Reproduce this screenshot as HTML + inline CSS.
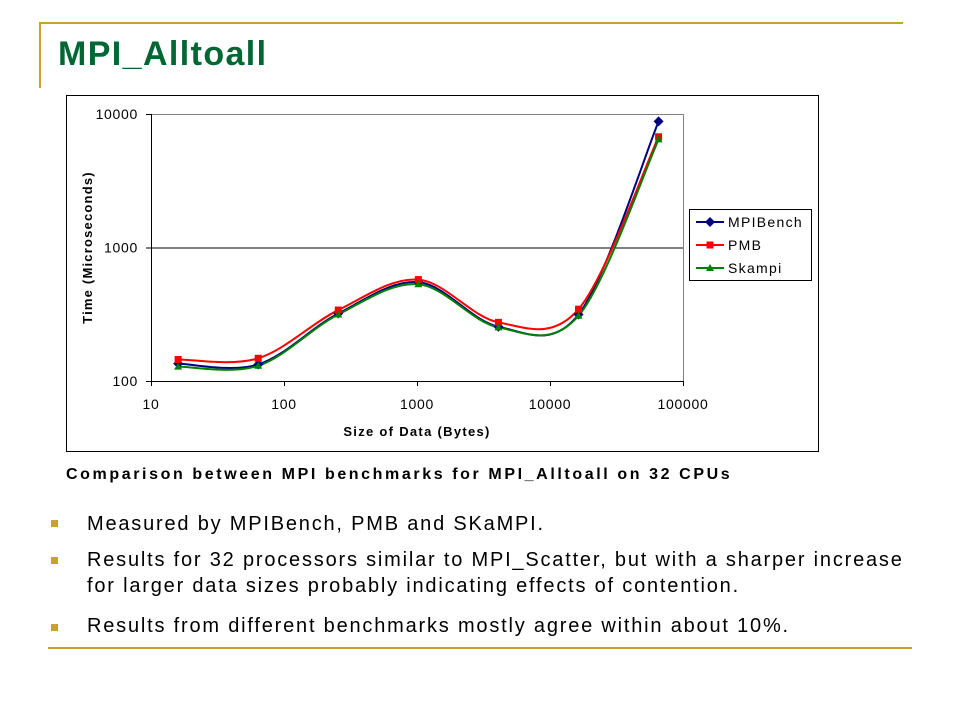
<!DOCTYPE html>
<html><head><meta charset="utf-8">
<style>
body{margin:0;width:960px;height:720px;background:#fff;font-family:"Liberation Sans",Arial,sans-serif;position:relative;overflow:hidden}
.abs{position:absolute}
.bul{position:absolute;left:51px;width:7px;height:7px;background:#c9a227}
.bt{position:absolute;left:87px;font-size:20px;color:#000;line-height:26px;white-space:nowrap;letter-spacing:1.8px}
</style></head><body>
<div class="abs" style="left:39px;top:22px;width:864px;height:2px;background:#c9a227"></div>
<div class="abs" style="left:39px;top:22px;width:2px;height:66px;background:#c9a227"></div>
<div class="abs" style="left:58px;top:35px;font-size:34px;font-weight:bold;color:#006633;letter-spacing:1.4px">MPI_Alltoall</div>

<svg class="abs" style="left:0;top:0" width="960" height="720">
<rect x="66.5" y="95.5" width="752" height="356" fill="#fff" stroke="#000"/>
<g id="plot"></g>
</svg>

<div class="abs" style="left:66px;top:466px;font-size:16px;font-weight:bold;letter-spacing:2.6px;white-space:nowrap">Comparison between MPI benchmarks for MPI_Alltoall on 32 CPUs</div>

<div class="bul" style="top:520px"></div>
<div class="bt" style="top:511px">Measured by MPIBench, PMB and SKaMPI.</div>
<div class="bul" style="top:557px"></div>
<div class="bt" style="top:547px">Results for 32 processors similar to MPI_Scatter, but with a sharper increase<br>for larger data sizes probably indicating effects of contention.</div>
<div class="bul" style="top:624px"></div>
<div class="bt" style="top:613px">Results from different benchmarks mostly agree within about 10%.</div>
<div class="abs" style="left:48px;top:647px;width:864px;height:2px;background:#c9a227"></div>

<script>
const sizes=[16,64,256,1024,4096,16384,65536];
const mpibench=[135,133,320,550,255,315,8800];
const pmb=[145,148,340,575,275,345,6750];
const skampi=[128,130,315,530,252,308,6450];
const xTicks=[10,100,1000,10000,100000];
const yTicks=[100,1000,10000];
const seriesNames=["MPIBench","PMB","Skampi"];
const seriesColors=["#000080","#ff0000","#008000"];

const NS="http://www.w3.org/2000/svg";
const g=document.getElementById('plot');
const L=151,R=683,T=114,B=381;
const X=v=>L+(Math.log10(v)-1)/4*(R-L);
const Y=v=>B-(Math.log10(v)-2)/2*(B-T);
const FF='Liberation Sans, Arial, sans-serif';
function mk(t,a){const e=document.createElementNS(NS,t);for(const k in a)e.setAttribute(k,a[k]);g.appendChild(e);return e;}
let e;
e=mk('rect',{x:L+.5,y:T+.5,width:R-L,height:B-T,fill:'#fff',stroke:'#808080'});


yTicks.forEach(v=>{
  if(v>100&&v<10000){e=mk('line',{x1:L,x2:R,y1:Y(v)+.5,y2:Y(v)+.5,stroke:'#000'});
  
  }
  e=mk('line',{x1:L-5,x2:L,y1:Y(v)+.5,y2:Y(v)+.5,stroke:'#000'});
  
  
  e=mk('text',{x:L-13,y:Y(v)+5,'text-anchor':'end','font-size':14,'letter-spacing':0.7,'font-family':FF});
  e.textContent=v;
  
  
});
e=mk('line',{x1:L+.5,x2:L+.5,y1:T,y2:B,stroke:'#000'});


e=mk('line',{x1:L,x2:R,y1:B+.5,y2:B+.5,stroke:'#000'});


xTicks.forEach(v=>{
  e=mk('line',{x1:X(v)+.5,x2:X(v)+.5,y1:B,y2:B+5,stroke:'#000'});
  
  
  e=mk('text',{x:X(v),y:B+28,'text-anchor':'middle','font-size':14,'letter-spacing':0.7,'font-family':FF});
  e.textContent=v;
  
  
});
e=mk('text',{x:(L+R)/2,y:436,'text-anchor':'middle','font-size':13,'font-weight':'bold','letter-spacing':1.3,'font-family':FF});
e.textContent='Size of Data (Bytes)';


e=mk('text',{x:0,y:0,'text-anchor':'middle','font-size':13,'font-weight':'bold','letter-spacing':1.2,'font-family':FF,transform:'translate(92,'+((T+B)/2)+') rotate(-90)'});
e.textContent='Time (Microseconds)';



function smooth(p){let d='M'+p[0][0]+','+p[0][1];
  for(let i=0;i<p.length-1;i++){const p0=p[Math.max(0,i-1)],p1=p[i],p2=p[i+1],p3=p[Math.min(p.length-1,i+2)];
    const t=1/6;d+=' C'+(p1[0]+(p2[0]-p0[0])*t)+','+(p1[1]+(p2[1]-p0[1])*t)+' '+(p2[0]-(p3[0]-p1[0])*t)+','+(p2[1]-(p3[1]-p1[1])*t)+' '+p2[0]+','+p2[1];}
  return d;}
function marker(k,x,y,c){
  if(k===0){e=mk('polygon',{points:`${x},${y-5} ${x+5},${y} ${x},${y+5} ${x-5},${y}`,fill:c});}
  else if(k===1){e=mk('rect',{x:x-3.5,y:y-3.5,width:7,height:7,fill:c});}
  else {e=mk('polygon',{points:`${x},${y-4} ${x+4},${y+3} ${x-4},${y+3}`,fill:c});}
  return e;}
[mpibench,pmb,skampi].forEach((s,k)=>{
  const pts=sizes.map((v,i)=>[X(v),Y(s[i])]);
  e=mk('path',{d:smooth(pts),fill:'none',stroke:seriesColors[k],'stroke-width':2});
  
  
});
[mpibench,pmb,skampi].forEach((s,k)=>{
  sizes.forEach((v,i)=>{
    e=marker(k,X(v),Y(s[i]),seriesColors[k]);
    
    
  });
});
e=mk('rect',{x:689.5,y:209.5,width:122,height:71,fill:'#fff',stroke:'#000'});


seriesNames.forEach((n,k)=>{
  const y=222+k*23;
  e=mk('line',{x1:696,x2:724,y1:y,y2:y,stroke:seriesColors[k],'stroke-width':2});
  
  
  marker(k,710,y,seriesColors[k]);
  e=mk('text',{x:728,y:y+5,'font-size':14,'letter-spacing':1.3,'font-family':FF});
  e.textContent=n;
  
  
});
</script>
</body></html>
